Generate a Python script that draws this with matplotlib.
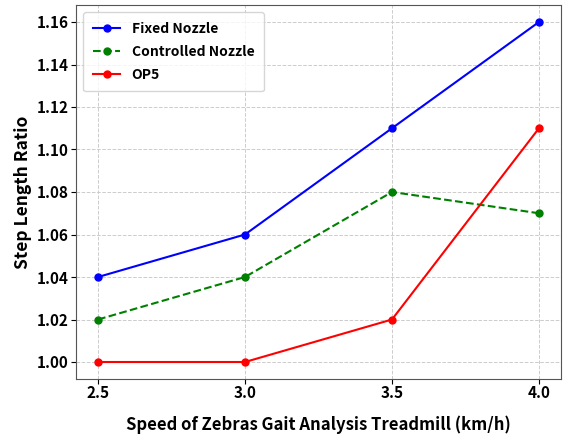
import matplotlib.pyplot as plt

plt.rcParams['font.family'] = ['Noto Sans CJK KR', 'DejaVu Sans']

# data
speed = [2.5, 3.0, 3.5, 4.0]
fixed_nozzle = [1.04, 1.06, 1.11, 1.16]
controlled_nozzle = [1.02, 1.04, 1.08, 1.07]
op5 = [1.00, 1.00, 1.02, 1.11]
yticks = [1.00, 1.02, 1.04, 1.06, 1.08, 1.10, 1.12, 1.14, 1.16]

fig, ax = plt.subplots(figsize=(5.66, 4.34), dpi=100)
fig.subplots_adjust(left=76 / 566, right=561 / 566, top=1 - 5 / 434, bottom=1 - 379 / 434)

ax.plot(speed, fixed_nozzle, color='blue', marker='o', markersize=5, linewidth=1.5, label='Fixed Nozzle')
ax.plot(speed, controlled_nozzle, color='green', marker='o', markersize=5, linewidth=1.5,
        linestyle='--', label='Controlled Nozzle')
ax.plot(speed, op5, color='red', marker='o', markersize=5, linewidth=1.5, label='OP5')

ax.set_xticks(speed)
ax.set_yticks(yticks)
ax.set_xticklabels([f'{v:.1f}' for v in speed], fontweight='bold', fontsize=11)
ax.set_yticklabels([f'{v:.2f}' for v in yticks], fontweight='bold', fontsize=11)
ax.tick_params(axis='x', pad=1)
ax.tick_params(axis='y', pad=2)

ax.set_xlabel('Speed of Zebras Gait Analysis Treadmill (km/h)', fontweight='bold', fontsize=12, labelpad=10)
ax.set_ylabel('Step Length Ratio', fontweight='bold', fontsize=12.5, labelpad=3)

ax.grid(True, linestyle='--', color='#cccccc', linewidth=0.7)
for s in ax.spines.values():
    s.set_color('#555555')

leg = ax.legend(loc='upper left', prop={'weight': 'bold', 'size': 10},
                borderpad=0.7, labelspacing=0.65)

plt.savefig('out.png')
